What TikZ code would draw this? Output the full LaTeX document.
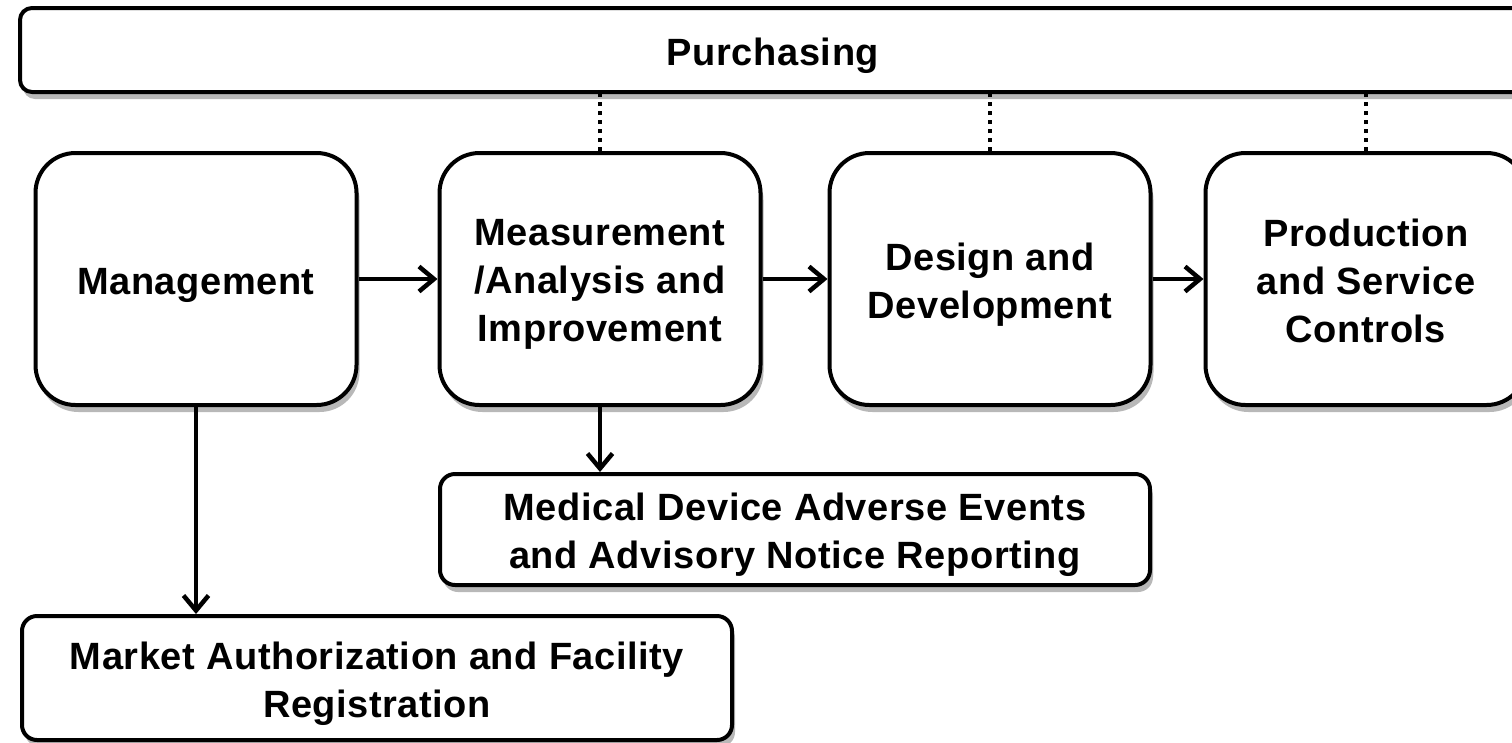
\documentclass[tikz,border=0pt]{standalone}
\usepackage{fontspec}
\setmainfont{Liberation Sans}[LetterSpace=1.5]
\usetikzlibrary{arrows.meta,shadows}
\begin{document}
\begin{tikzpicture}[x=1pt,y=-1pt,
  box/.style={draw=black, line width=4pt, fill=white, inner sep=0pt,
    drop shadow={shadow xshift=3pt, shadow yshift=-7pt, fill=black!28, opacity=1}},
  bigbox/.style={box, rounded corners=40pt, minimum width=321pt, minimum height=252pt},
  widebox/.style={box, rounded corners=15pt, minimum width=710pt},
  txt/.style={align=center, inner sep=0pt,
    font=\fontsize{38}{48}\selectfont\bfseries,
    execute at begin node=\strut, execute at end node=\strut},
  txtone/.style={txt, yshift=-5.5pt},
  txtmulti/.style={txt, yshift=-8.5pt},
  flow/.style={line width=4pt, -{Straight Barb[length=15pt,width=25pt,line width=4.5pt]}},
  link/.style={line width=3.5pt, dash pattern=on 4pt off 5pt}]
\useasboundingbox (0,0) rectangle (1512,742);
\fill[white] (0,0) rectangle (1512,742);
\node[box, rounded corners=12pt, minimum width=1506pt, minimum height=84pt] (purch) at (773,50) {};
\node[bigbox] (mgmt) at (196,279) {};
\node[bigbox] (meas) at (600,279) {};
\node[bigbox] (design) at (990,279) {};
\node[bigbox] (prod) at (1366,279) {};
\node[widebox, minimum height=111pt] (medical) at (795,529.5) {};
\node[widebox, minimum height=124pt] (market) at (377,678) {};
\node[txtone] (purch-t) at (purch) {Purchasing};
\node[txtone] (mgmt-t) at (mgmt) {Management};
\node[txtmulti] (meas-t) at (meas) {Measurement\\/Analysis and\\Improvement};
\node[txtmulti] (design-t) at (design) {Design and\\Development};
\node[txtmulti] (prod-t) at (prod) {Production\\and Service\\Controls};
\node[txtmulti] (medical-t) at (medical) {Medical Device Adverse Events\\and Advisory Notice Reporting};
\node[txtmulti] (market-t) at (market) {Market Authorization and Facility\\Registration};
\draw[link] (meas.north) -- (meas.north |- purch.south);
\draw[link] (design.north) -- (design.north |- purch.south);
\draw[link] (prod.north) -- (prod.north |- purch.south);
\draw[flow] (mgmt) -- (meas);
\draw[flow] (meas) -- (design);
\draw[flow] (design) -- (prod);
\draw[flow] (meas.south) -- (meas.south |- medical.north);
\draw[flow] (mgmt.south) -- (mgmt.south |- market.north);
\end{tikzpicture}
\end{document}
